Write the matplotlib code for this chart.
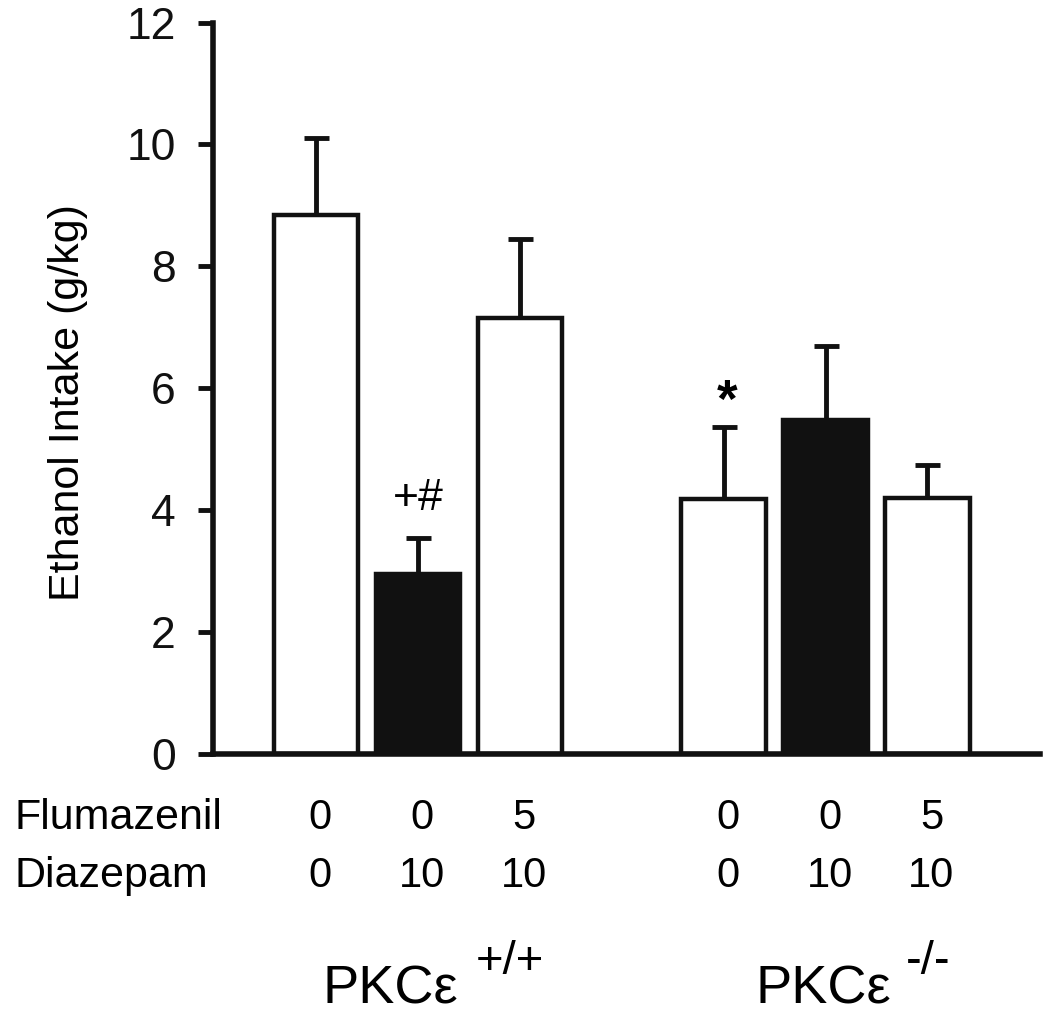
"""Ethanol intake in PKCe +/+ and -/- mice after diazepam / flumazenil."""

import matplotlib

matplotlib.use("Agg")
import matplotlib.pyplot as plt  # noqa: E402
import matplotlib.transforms as mtransforms  # noqa: E402

plt.rcParams["font.family"] = ["Liberation Sans", "DejaVu Sans"]

# data
positions = [0, 1, 2, 4, 5, 6]
intake = [8.85, 2.95, 7.15, 4.18, 5.48, 4.2]
sem = [1.25, 0.6, 1.3, 1.18, 1.22, 0.55]
filled = [False, True, False, False, True, False]
flumazenil = ["0", "0", "5", "0", "0", "5"]
diazepam = ["0", "10", "10", "0", "10", "10"]
marks = {1: "+#", 3: "*"}
genotypes = ["+/+", "-/-"]
yticks = [0, 2, 4, 6, 8, 10, 12]


def fy(px):
    """pixel row (from top) -> figure fraction"""
    return 1 - px / 1026


def main() -> None:
    fig = plt.figure(figsize=(10.5, 10.26), dpi=100)
    ax = fig.add_axes([0.203, 0.265, 0.787, 0.713])

    colors = ["#111111" if f else "white" for f in filled]
    ax.bar(positions, intake, width=0.83, color=colors, edgecolor="#111111",
           linewidth=3.2, zorder=2)
    ax.errorbar(positions, intake, yerr=[[0] * len(sem), sem], fmt="none",
                ecolor="#111111", elinewidth=3.5, capsize=9, capthick=3.5,
                zorder=1)

    # significance marks
    ax.text(positions[1], intake[1] + sem[1] + 0.65, marks[1], ha="center",
            va="center", fontsize=32)
    ax.text(positions[3] + 0.03, intake[3] + sem[3] + 0.4, marks[3],
            ha="center", va="center", fontsize=38, fontweight="bold")

    ax.set_xlim(-1.01, 7.1)
    ax.set_ylim(0, 12)
    ax.set_yticks(yticks)
    ax.tick_params(axis="y", labelsize=32, width=3.5, length=11, pad=16,
                   colors="#111111")
    ax.tick_params(axis="x", bottom=False, labelbottom=False)
    ax.set_ylabel("Ethanol Intake (g/kg)", fontsize=31)
    ax.yaxis.set_label_coords(-0.151, 0.48)
    for side in ("top", "right"):
        ax.spines[side].set_visible(False)
    for side in ("left", "bottom"):
        ax.spines[side].set_linewidth(4)
        ax.spines[side].set_color("#111111")

    trans = mtransforms.blended_transform_factory(ax.transData, fig.transFigure)
    fig.text(0.014, fy(829), "Flumazenil", fontsize=31, va="baseline")
    fig.text(0.014, fy(887), "Diazepam", fontsize=31, va="baseline")
    for x, f, d in zip(positions, flumazenil, diazepam):
        ax.text(x + 0.04, fy(829), f, transform=trans, ha="center",
                va="baseline", fontsize=30)
        ax.text(x + 0.04, fy(887), d, transform=trans, ha="center",
                va="baseline", fontsize=30)

    # genotype labels under each group
    for sup, x_name, x_sup in zip(genotypes, [1.39, 5.64], [1.57, 5.79]):
        ax.text(x_name, fy(1003), "PKCε", transform=trans, ha="right",
                va="baseline", fontsize=39)
        ax.text(x_sup, fy(962), sup, transform=trans, ha="left",
                va="center", fontsize=34)

    fig.savefig("out.png", dpi=100)


if __name__ == "__main__":
    main()
